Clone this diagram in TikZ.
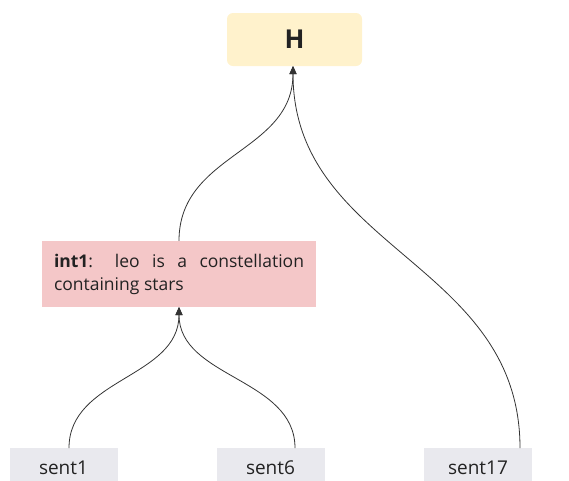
\documentclass[tikz,border=0pt]{standalone}
\usepackage{fontspec}
\setmainfont{Open Sans}
\usetikzlibrary{arrows.meta}
\definecolor{hfill}{HTML}{FFF2CC}
\definecolor{intfill}{HTML}{F4C7C8}
\definecolor{sentfill}{HTML}{E9E9EE}
\definecolor{ink}{HTML}{222222}
\definecolor{edge}{HTML}{333333}
\tikzset{
  goal/.style={fill=hfill, rounded corners=6pt, minimum width=135pt, minimum height=53pt,
    inner sep=0pt, font=\fontsize{26}{28}\selectfont\bfseries, text=ink},
  inter/.style={fill=intfill, minimum width=274pt, minimum height=66pt, inner sep=0pt,
    text width=250pt, align=justify, font=\fontsize{17.5}{23}\selectfont, text=ink},
  leaf/.style={fill=sentfill, minimum width=108pt, minimum height=40pt, inner sep=0pt,
    anchor=north, font=\fontsize{19}{22}\selectfont, text=ink},
  link/.style={draw=edge, line width=0.8pt, -{Triangle[length=8pt,width=7pt]}}
}
\begin{document}
\begin{tikzpicture}[x=1pt,y=-1pt]
  \useasboundingbox (0,0) rectangle (569,480);
  \node[goal] (H) at (294.5,39.5) {H};
  \node[inter] (int1) at (179,274) {\hyphenpenalty=10000 \textbf{int1}: leo is a constellation\linebreak containing stars};
  \begin{scope}
    \clip (0,0) rectangle (569,480);
    \node[leaf] (s1) at (63.5,448) {\raisebox{-11pt}{sent1}};
    \node[leaf] (s6) at (270.5,448) {\raisebox{-11pt}{sent6}};
    \node[leaf] (s17) at (478,448) {\raisebox{-11pt}{sent17}};
  \end{scope}
  \coordinate (s1t) at (69,448);
  \coordinate (s6t) at (295,448);
  \coordinate (s17t) at (520,448);
  \coordinate (Hb) at (293,66);
  \coordinate (i1b) at (179,307);
  \draw[link] (int1.north) .. controls (179,153) and (293,153) .. (Hb);
  \draw[link] (s17t) .. controls (520,262) and (293,250) .. (Hb);
  \draw[link] (s1t) .. controls (69,378) and (179,378) .. (i1b);
  \draw[link] (s6t) .. controls (295,378) and (179,378) .. (i1b);
\end{tikzpicture}
\end{document}
